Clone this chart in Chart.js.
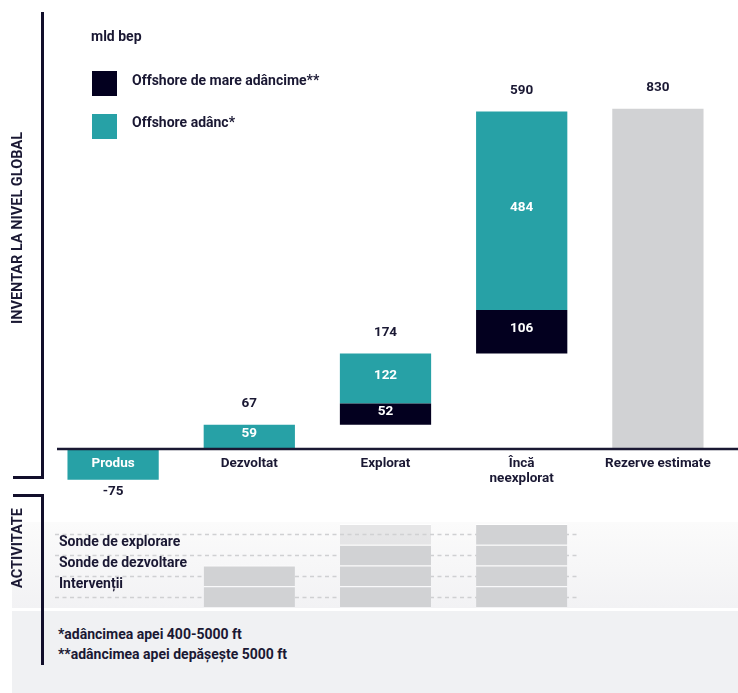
<!DOCTYPE html>
<html lang="ro">
<head>
<meta charset="utf-8">
<script src="https://cdn.jsdelivr.net/npm/chart.js@4.4.1/dist/chart.umd.min.js"></script>
<style>
  body { margin: 0; background: #fff; }
  #page { position: relative; width: 738px; height: 693px; overflow: hidden;
          font-family: Roboto, sans-serif; font-weight: 700; font-size: 14px; color: #1a1833; }
  .abs { position: absolute; }
  .line { position: absolute; background: #120f2b; }
  .rot { position: absolute; width: 260px; height: 18px; line-height: 18px; text-align: center;
         transform: rotate(-90deg); font-size: 14.5px; }
  .txt { position: absolute; white-space: nowrap; line-height: 16px; }
  canvas { position: absolute; left: 0; }
</style>
</head>
<body>
<div id="page">
  <!-- grey bands behind the activity block -->
  <div class="abs" style="left:12px;top:522px;width:726px;height:86px;background:linear-gradient(#fbfbfb,#f2f2f4)"></div>
  <div class="abs" style="left:12px;top:611px;width:726px;height:82px;background:#f0f1f3"></div>

  <canvas id="mainChart" width="738" height="500" style="top:0"></canvas>
  <canvas id="activityChart" width="738" height="110" style="top:510px"></canvas>

  <!-- brackets -->
  <div class="line" style="left:41px;top:12px;width:2.5px;height:467px"></div>
  <div class="line" style="left:13px;top:476px;width:30px;height:2.5px"></div>
  <div class="line" style="left:13px;top:494px;width:30px;height:2.5px"></div>
  <div class="line" style="left:41px;top:494px;width:2.5px;height:171px"></div>

  <div class="rot" style="left:-112px;top:219px">INVENTAR LA NIVEL GLOBAL</div>
  <div class="rot" style="left:-112px;top:539px">ACTIVITATE</div>

  <div class="txt" style="left:91px;top:28px">mld bep</div>
  <div class="abs" style="left:92px;top:71px;width:25px;height:25px;background:#03001f"></div>
  <div class="txt" style="left:132px;top:72px">Offshore de mare adâncime**</div>
  <div class="abs" style="left:92px;top:114px;width:25px;height:25px;background:#27a1a6"></div>
  <div class="txt" style="left:132px;top:114px">Offshore adânc*</div>

  <div class="txt" style="left:58px;top:626px">*adâncimea apei 400-5000 ft</div>
  <div class="txt" style="left:58px;top:646px">**adâncimea apei depășește 5000 ft</div>
</div>

<script>
const categories = ['Produs', 'Dezvoltat', 'Explorat', ['Încă', 'neexplorat'], 'Rezerve estimate'];
const deepOffshore = [null, null, 52, 106, null];      // Offshore de mare adâncime**
const shallowOffshore = [-75, 59, 122, 484, null];     // Offshore adânc*
const estimatedReserves = [null, null, null, null, 830];
const totals = [-75, 67, 174, 590, 830];

const activityLabels = ['Sonde de explorare', 'Sonde de dezvoltare', 'Intervenții'];
const activityRow1 = [0, 0, 1, 1, 0];
const activityRow2 = [0, 0, 1, 1, 0];
const activityRow3 = [0, 1, 1, 1, 0];
const activityRow4 = [0, 1, 1, 1, 0];

const TEXT = '#1a1833';
const FONT = 'Roboto, sans-serif';

// waterfall: each column starts where the previous one ended
const deepRanges = [];
const shallowRanges = [];
let base = 0;
categories.forEach((c, i) => {
  const d = deepOffshore[i];
  const s = shallowOffshore[i];
  if (s !== null && s < 0) {
    deepRanges.push(null);
    shallowRanges.push([s, 0]);
    return;
  }
  deepRanges.push(d ? [base, base + d] : null);
  const start = base + (d || 0);
  shallowRanges.push(s ? [start, start + s] : null);
  if (d || s) base = start + (s || 0);
});
const reserveRanges = estimatedReserves.map(v => (v === null ? null : [0, v]));

const barLabels = {
  id: 'barLabels',
  afterDatasetsDraw(chart) {
    const { ctx } = chart;
    const y = chart.scales.y;
    // baseline
    ctx.save();
    ctx.strokeStyle = TEXT;
    ctx.lineWidth = 2.5;
    ctx.beginPath();
    ctx.moveTo(57, y.getPixelForValue(0));
    ctx.lineTo(chart.width, y.getPixelForValue(0));
    ctx.stroke();

    ctx.font = '700 13.5px ' + FONT;
    ctx.textAlign = 'center';
    ctx.textBaseline = 'middle';
    // values inside the segments
    [[0, deepOffshore], [1, shallowOffshore]].forEach(([di, values]) => {
      const meta = chart.getDatasetMeta(di);
      values.forEach((v, i) => {
        if (v === null || v < 0) return;
        const el = meta.data[i];
        ctx.fillStyle = '#fff';
        ctx.fillText(String(v), el.x, (el.y + el.base) / 2 - 3);
      });
    });
    // totals above / below each column
    totals.forEach((t, i) => {
      let top = Infinity, bottom = -Infinity, x = 0;
      [0, 1, 2].forEach(di => {
        const el = chart.getDatasetMeta(di).data[i];
        const raw = chart.data.datasets[di].data[i];
        if (!el || raw === null) return;
        top = Math.min(top, el.y, el.base);
        bottom = Math.max(bottom, el.y, el.base);
        x = el.x;
      });
      ctx.fillStyle = TEXT;
      ctx.fillText(String(t), x, t < 0 ? bottom + 12 : top - 21);
    });
    ctx.restore();
  }
};

new Chart(document.getElementById('mainChart'), {
  type: 'bar',
  data: {
    labels: categories,
    datasets: [
      { label: 'Offshore de mare adâncime**', data: deepRanges, backgroundColor: '#03001f' },
      { label: 'Offshore adânc*', data: shallowRanges, backgroundColor: '#27a1a6' },
      { label: 'Rezerve estimate', data: reserveRanges, backgroundColor: '#d1d2d4' }
    ]
  },
  options: {
    responsive: false,
    animation: false,
    layout: { padding: { left: 45, right: 12, top: 80, bottom: 10 } },
    datasets: { bar: { grouped: false, categoryPercentage: 1, barPercentage: 0.67, borderWidth: 0 } },
    plugins: { legend: { display: false }, tooltip: { enabled: false } },
    scales: {
      x: {
        position: { y: 0 },
        grid: { display: false, drawTicks: false },
        border: { display: false },
        ticks: {
          z: 1,
          autoSkip: false,
          maxRotation: 0,
          padding: 7,
          font: { family: FONT, size: 13.5, weight: '700', lineHeight: 1.1 },
          color: ctx => (ctx.index === 0 ? '#fff' : TEXT)
        }
      },
      y: { display: false, min: -100, max: 900 }
    }
  },
  plugins: [barLabels]
});

const activityDecor = {
  id: 'activityDecor',
  beforeDatasetsDraw(chart) {
    const { ctx } = chart;
    const y = chart.scales.y;
    ctx.save();
    ctx.strokeStyle = '#cfd0d2';
    ctx.lineWidth = 1.5;
    ctx.setLineDash([4, 3.5]);
    [0.5, 1.5, 2.5, 3.5].forEach(v => {
      const py = Math.round(y.getPixelForValue(v)) + 0.5;
      ctx.beginPath();
      ctx.moveTo(55, py);
      ctx.lineTo(580, py);
      ctx.stroke();
    });
    ctx.restore();
  },
  afterDraw(chart) {
    const { ctx } = chart;
    const y = chart.scales.y;
    ctx.save();
    ctx.font = '700 14px ' + FONT;
    ctx.fillStyle = TEXT;
    ctx.textBaseline = 'middle';
    activityLabels.forEach((l, i) => {
      ctx.fillText(l, 59, y.getPixelForValue(3 - i) - 2);
    });
    ctx.restore();
  }
};

const rowSet = (values, colors) => ({
  data: values.map(v => (v ? v : null)),
  backgroundColor: colors || '#d1d2d4',
  borderColor: '#fff',
  borderWidth: { top: 1, bottom: 0, left: 0, right: 0 },
  borderSkipped: false
});

new Chart(document.getElementById('activityChart'), {
  type: 'bar',
  data: {
    labels: categories,
    datasets: [
      rowSet(activityRow4),
      rowSet(activityRow3),
      rowSet(activityRow2),
      rowSet(activityRow1, categories.map((c, i) => (i === 2 ? 'rgba(209,210,212,0.5)' : '#d1d2d4')))
    ]
  },
  options: {
    responsive: false,
    animation: false,
    layout: { padding: { left: 45, right: 12, top: 14, bottom: 13 } },
    datasets: { bar: { categoryPercentage: 1, barPercentage: 0.67 } },
    plugins: { legend: { display: false }, tooltip: { enabled: false } },
    scales: {
      x: { display: false, stacked: true },
      y: { display: false, stacked: true, min: 0, max: 4 }
    }
  },
  plugins: [activityDecor]
});
</script>
</body>
</html>
